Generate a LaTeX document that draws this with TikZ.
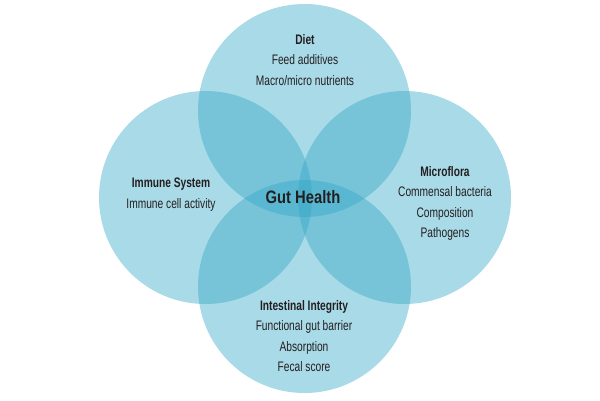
\documentclass[tikz,border=0pt]{standalone}
\usepackage{fontspec}
\setmainfont{Liberation Sans}[FakeStretch=0.74]
\newfontfamily\hubfont{Liberation Sans}[FakeStretch=0.82]
\usetikzlibrary{positioning}

\definecolor{gutblue}{RGB}{50,166,198}
\definecolor{inktext}{RGB}{35,31,32}

\begin{document}
\begin{tikzpicture}[
        x=1pt, y=-1pt,
        blob/.style={circle, draw=none, fill=gutblue, fill opacity=0.42,
                     minimum size=213pt, inner sep=0pt},
        topic/.style={align=center, text=inktext, inner sep=0pt,
                      font=\fontsize{13.8}{20.5}\selectfont},
        hub/.style={text=inktext, inner sep=0pt,
                    font=\hubfont\fontsize{18}{20}\selectfont\bfseries},
    ]
    \useasboundingbox (0,0) rectangle (600,400);
    % the four circles
    \node[blob] (diet) at (304.5,110.5) {};
    \node[blob] (immune) at (205.5,197.5) {};
    \node[blob] (micro) at (404.5,197.5) {};
    \node[blob] (integrity) at (304.5,286.5) {};
    % texts
    \node[topic] (dietText) at (305,60) {\textbf{Diet}\\ Feed additives\\ Macro/micro nutrients};
    \node[topic] (immuneText) at (171,194.5) {\textbf{Immune System}\\ Immune cell activity};
    \node[topic] (microText) at (445,203.5) {\textbf{Microflora}\\ Commensal bacteria\\ Composition\\ Pathogens};
    \node[topic] (integrityText) at (304,336) {\textbf{Intestinal Integrity}\\ Functional gut barrier\\ Absorption\\ Fecal score};
    \node[hub] (gut) at (303,197) {Gut Health};
\end{tikzpicture}
\end{document}
